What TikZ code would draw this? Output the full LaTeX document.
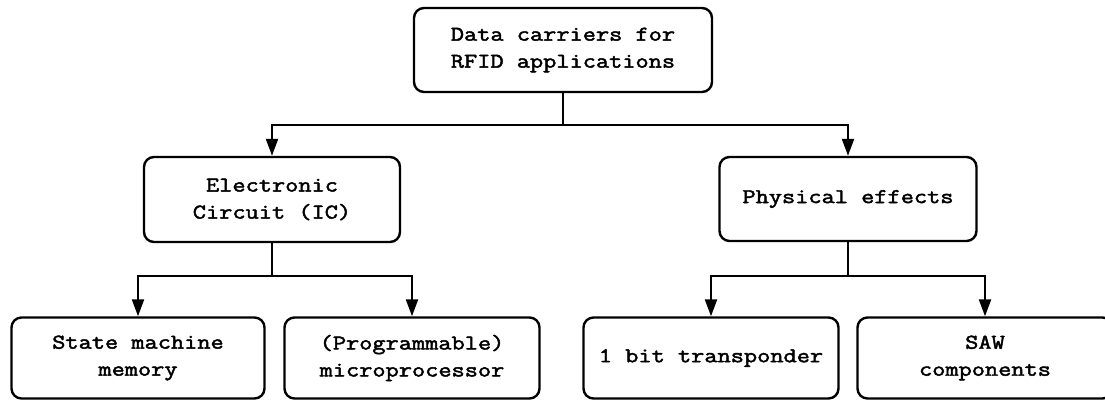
\documentclass[tikz,border=0pt]{standalone}
\usepackage{fontspec}
\setmonofont[FakeStretch=1.22,FakeBold=2.2]{Latin Modern Mono}
\usetikzlibrary{arrows.meta}
\begin{document}
\begin{tikzpicture}[x=1pt,y=-1pt,
  box/.style={draw,line width=2.4pt,rounded corners=10pt,align=center,inner sep=0pt,
    font=\ttfamily\fontsize{21}{27}\selectfont},
  conn/.style={line width=2.2pt},
  arr/.style={conn,-{Triangle[length=17pt,width=12pt]}}]
\useasboundingbox (0,0) rectangle (1105,401);
\node[box,minimum width=298pt,minimum height=84pt] (top) at (563,50) {Data carriers for\\RFID applications};
\node[box,minimum width=256pt,minimum height=85pt] (ec) at (272,199.5) {Electronic\\Circuit (IC)};
\node[box,minimum width=257pt,minimum height=84pt] (pe) at (848,199) {Physical effects};
\node[box,minimum width=253pt,minimum height=81pt] (sm) at (138,358) {State machine\\memory};
\node[box,minimum width=255pt,minimum height=81pt] (pm) at (412,358) {(Programmable)\\microprocessor};
\node[box,minimum width=255pt,minimum height=81pt] (ob) at (711,358) {1 bit transponder};
\node[box,minimum width=255pt,minimum height=81pt] (saw) at (985,358) {SAW\\components};
\coordinate (j1) at (563,125);
\coordinate (j2) at (272,276);
\coordinate (j3) at (848,276);
\draw[conn] (top.south) -- (j1);
\draw[arr] (j1) -| (ec.north);
\draw[arr] (j1) -| (pe.north);
\draw[conn] (ec.south) -- (j2);
\draw[arr] (j2) -| (sm.north);
\draw[arr] (j2) -| (pm.north);
\draw[conn] (pe.south) -- (j3);
\draw[arr] (j3) -| (ob.north);
\draw[arr] (j3) -| (saw.north);
\end{tikzpicture}
\end{document}
